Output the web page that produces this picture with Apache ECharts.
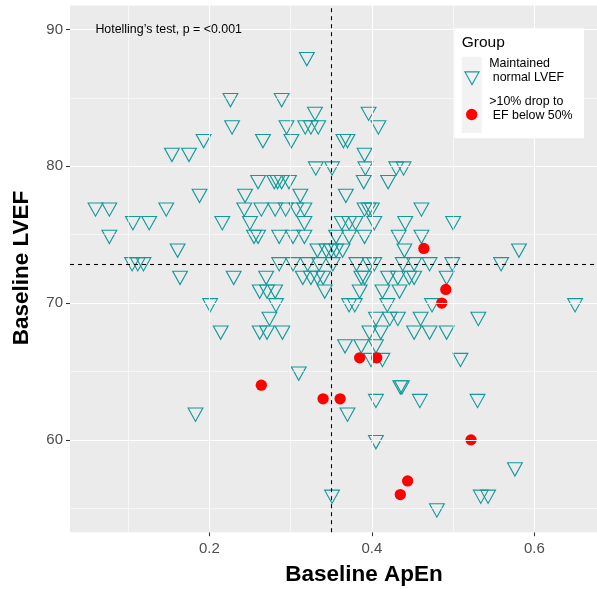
<!DOCTYPE html>
<html><head><meta charset="utf-8">
<script src="https://cdn.jsdelivr.net/npm/echarts@6/dist/echarts.min.js"></script>
<style>html,body{margin:0;padding:0;background:#fff}#c{width:597px;height:589px}</style>
</head><body><div id="c"></div>
<script>
// ---- Data ----
const maintainedApEn = [
  0.320,
  0.226, 0.289,
  0.330, 0.396,
  0.228, 0.295, 0.318, 0.325, 0.334, 0.408,
  0.193, 0.266, 0.301, 0.365, 0.370,
  0.154, 0.175, 0.391,
  0.331, 0.351, 0.392, 0.430, 0.439,
  0.260, 0.280, 0.284, 0.289, 0.298, 0.390, 0.420,
  0.188, 0.244, 0.312, 0.368,
  0.060, 0.077, 0.147, 0.243, 0.264, 0.281, 0.294, 0.307, 0.317, 0.391, 0.396, 0.400, 0.461,
  0.106, 0.126, 0.216, 0.250, 0.317, 0.363, 0.372, 0.380, 0.403, 0.441, 0.500,
  0.077, 0.255, 0.260, 0.286, 0.303, 0.317, 0.356, 0.372, 0.391, 0.433, 0.461,
  0.161, 0.333, 0.344, 0.350, 0.356, 0.364, 0.440, 0.581,
  0.105, 0.112, 0.119, 0.286, 0.303, 0.321, 0.335, 0.352, 0.381, 0.397, 0.403, 0.438, 0.452, 0.471, 0.499, 0.559,
  0.164, 0.230, 0.270, 0.315, 0.325, 0.333, 0.340, 0.387, 0.391, 0.420, 0.432, 0.446, 0.452, 0.492,
  0.262, 0.271, 0.281, 0.342, 0.385, 0.413, 0.434,
  0.201, 0.282, 0.372, 0.379, 0.419, 0.474, 0.650,
  0.274, 0.405, 0.422, 0.432, 0.460, 0.531,
  0.214, 0.262, 0.271, 0.290, 0.397, 0.411, 0.452, 0.471, 0.492,
  0.367, 0.387, 0.405,
  0.399, 0.413, 0.509,
  0.310,
  0.435, 0.437,
  0.405, 0.459, 0.530,
  0.183, 0.370,
  0.405,
  0.576,
  0.351, 0.534, 0.543,
  0.480
];
const maintainedLVEF = [
  88,
  85, 85,
  84, 84,
  83, 83, 83, 83, 83, 83,
  82, 82, 82, 82, 82,
  81, 81, 81,
  80, 80, 80, 80, 80,
  79, 79, 79, 79, 79, 79, 79,
  78, 78, 78, 78,
  77, 77, 77, 77, 77, 77, 77, 77, 77, 77, 77, 77, 77,
  76, 76, 76, 76, 76, 76, 76, 76, 76, 76, 76,
  75, 75, 75, 75, 75, 75, 75, 75, 75, 75, 75,
  74, 74, 74, 74, 74, 74, 74, 74,
  73, 73, 73, 73, 73, 73, 73, 73, 73, 73, 73, 73, 73, 73, 73, 73,
  72, 72, 72, 72, 72, 72, 72, 72, 72, 72, 72, 72, 72, 72,
  71, 71, 71, 71, 71, 71, 71,
  70, 70, 70, 70, 70, 70, 70,
  69, 69, 69, 69, 69, 69,
  68, 68, 68, 68, 68, 68, 68, 68, 68,
  67, 67, 67,
  66, 66, 66,
  65,
  64, 64,
  63, 63, 63,
  62, 62,
  60,
  58,
  56, 56, 56,
  55
];
const dropApEn = [0.464, 0.491, 0.486, 0.385, 0.406, 0.264, 0.340, 0.361, 0.522, 0.444, 0.435];
const dropLVEF = [74, 71, 70, 66, 66, 64, 63, 63, 60, 57, 56];

const meanApEn = 0.350;
const meanLVEF = 72.86;

const xMajor = [0.2, 0.4, 0.6];
const xMinor = [0.1, 0.3, 0.5];
const yMajor = [60, 70, 80, 90];
const yMinor = [55, 65, 75, 85];

const groupNames = ['Maintained\n normal LVEF', '>10% drop to\n EF below 50%'];
const annotationText = "Hotelling\u2019s test, p = <0.001";
const annotationPos = [0.15, 90];

// ---- Chart ----
const FONT = '"Liberation Sans", Arial, Helvetica, sans-serif';
const TEAL = '#129999';
const RED = '#FF0000';
const TRI = 'path://M0,0 L20,0 L10,18 Z';

const maintainedData = maintainedApEn.map((x, i) => [x, maintainedLVEF[i]]);
const dropData = dropApEn.map((x, i) => [x, dropLVEF[i]]);

const chart = echarts.init(document.getElementById('c'), null, {renderer: 'canvas'});

function gridSeries(xs, ys, width) {
  return {
    type: 'scatter', data: [], silent: true, z: 1,
    markLine: {
      silent: true, symbol: 'none', animation: false,
      label: {show: false},
      emphasis: {disabled: true},
      lineStyle: {color: '#FFFFFF', width: width, type: 'solid', opacity: 1},
      data: xs.map(v => ({xAxis: v})).concat(ys.map(v => ({yAxis: v})))
    }
  };
}

const option = {
  animation: false,
  backgroundColor: '#FFFFFF',
  grid: {left: 70, right: 0, top: 5.6, bottom: 56.8, show: true,
         backgroundColor: '#EBEBEB', borderWidth: 0},
  xAxis: {
    type: 'value', min: 0.0286, max: 0.677,
    axisLine: {show: false}, splitLine: {show: false},
    axisTick: {show: true, customValues: xMajor, length: 4, lineStyle: {color: '#333333', width: 1.07}},
    axisLabel: {customValues: xMajor, formatter: v => Number(v).toFixed(1), color: '#4D4D4D',
                fontSize: 15, fontFamily: FONT, margin: 9}
  },
  yAxis: {
    type: 'value', min: 53.25, max: 91.75,
    axisLine: {show: false}, splitLine: {show: false},
    axisTick: {show: true, customValues: yMajor, length: 4, lineStyle: {color: '#333333', width: 1.07}},
    axisLabel: {customValues: yMajor, formatter: v => String(v), color: '#4D4D4D',
                fontSize: 15, fontFamily: FONT, margin: 7}
  },
  series: [
    gridSeries(xMinor, yMinor, 0.55),
    gridSeries(xMajor, yMajor, 1.07),
    {
      type: 'scatter', name: groupNames[0], data: maintainedData, z: 3,
      symbol: TRI, symbolSize: [14.8, 13.3], symbolOffset: [0, 2.2],
      itemStyle: {color: 'rgba(0,0,0,0)', borderColor: TEAL, borderWidth: 1.1, opacity: 1},
      emphasis: {disabled: true}
    },
    {
      type: 'scatter', name: groupNames[1], data: dropData, z: 4,
      symbol: 'circle', symbolSize: 11.3,
      itemStyle: {color: RED, opacity: 1},
      emphasis: {disabled: true}
    },
    {
      type: 'scatter', data: [], silent: true, z: 5,
      markLine: {
        silent: true, symbol: 'none', animation: false,
        label: {show: false}, emphasis: {disabled: true},
        lineStyle: {color: '#000000', width: 1.07, type: [4, 4], opacity: 1},
        data: [{xAxis: meanApEn}, {yAxis: meanLVEF}]
      }
    }
  ]
};
chart.setOption(option);

// Annotation, axis titles, legend
const ann = chart.convertToPixel({gridIndex: 0}, annotationPos);
const nameLines0 = groupNames[0].split('\n');
const nameLines1 = groupNames[1].split('\n');
chart.setOption({
  graphic: [
    {type: 'text', x: ann[0], y: ann[1], z: 10,
     style: {text: annotationText, fontSize: 12.4, fontFamily: FONT, fill: '#000000', align: 'center', verticalAlign: 'middle'}},
    {type: 'text', x: 364, y: 575, z: 10,
     style: {text: 'Baseline ApEn', fontSize: 22.5, fontWeight: 'bold', fontFamily: FONT, fill: '#000000', align: 'center', verticalAlign: 'middle'}},
    {type: 'text', x: 22, y: 268, rotation: Math.PI / 2, z: 10,
     style: {text: 'Baseline LVEF', fontSize: 22.5, fontWeight: 'bold', fontFamily: FONT, fill: '#000000', align: 'center', verticalAlign: 'middle'}},
    {type: 'rect', z: 10, shape: {x: 454.3, y: 28.3, width: 129.7, height: 110}, style: {fill: '#FFFFFF'}},
    {type: 'rect', z: 11, shape: {x: 461.7, y: 56.7, width: 20, height: 76.3}, style: {fill: '#F2F2F2'}},
    {type: 'text', x: 461.7, y: 43, z: 12,
     style: {text: 'Group', fontSize: 15.5, fontFamily: FONT, fill: '#000000', align: 'left', verticalAlign: 'middle'}},
    {type: 'polygon', z: 12, shape: {points: [[464.9, 71.9], [479.1, 71.9], [472, 84.6]]},
     style: {fill: 'none', stroke: TEAL, lineWidth: 1.1}},
    {type: 'circle', z: 12, shape: {cx: 471.7, cy: 114.5, r: 5.65}, style: {fill: RED}},
    {type: 'text', x: 489.3, y: 64, z: 12,
     style: {text: nameLines0[0], fontSize: 12.4, fontFamily: FONT, fill: '#000000', align: 'left', verticalAlign: 'middle'}},
    {type: 'text', x: 489.3, y: 77.7, z: 12,
     style: {text: nameLines0[1], fontSize: 12.4, fontFamily: FONT, fill: '#000000', align: 'left', verticalAlign: 'middle'}},
    {type: 'text', x: 489.3, y: 102, z: 12,
     style: {text: nameLines1[0], fontSize: 12.4, fontFamily: FONT, fill: '#000000', align: 'left', verticalAlign: 'middle'}},
    {type: 'text', x: 489.3, y: 115.5, z: 12,
     style: {text: nameLines1[1], fontSize: 12.4, fontFamily: FONT, fill: '#000000', align: 'left', verticalAlign: 'middle'}}
  ]
});
</script>
</body></html>
